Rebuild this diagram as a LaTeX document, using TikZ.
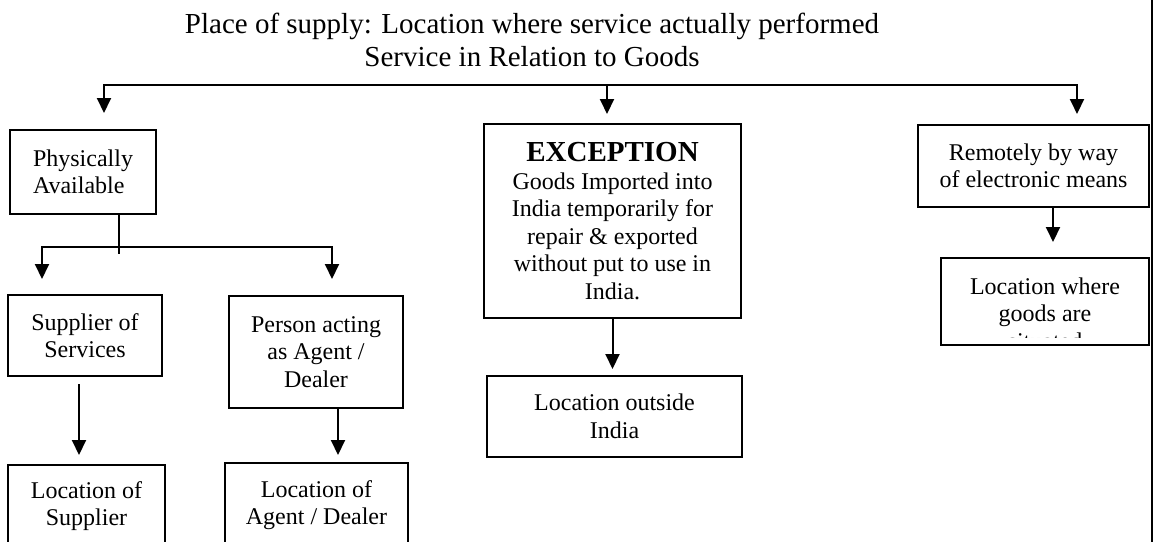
\documentclass[tikz,border=0pt]{standalone}
\usepackage{fontspec}
\setmainfont{Liberation Serif}
\usetikzlibrary{arrows.meta}
\usetikzlibrary{positioning}

\tikzset{
	box/.style = {draw, line width = 2pt, inner sep = 0pt, align = center, font = \fontsize{24}{27.5}\selectfont},
	link/.style = {line width = 2pt, line cap = rect},
}

\begin{document}
\begin{tikzpicture}[x = 1pt, y = -1pt, >={Triangle[width = 14pt, length = 15pt]}]
			%\draw[help lines] (0,0) grid (1155,541);
			\useasboundingbox (0,0) rectangle (1155,541);
			\clip (0,0) rectangle (1155,541);
			
			\node[font = \fontsize{29}{33}\selectfont, align = center, inner sep = 0pt] (title) at (532,40) {Place of supply: Location where service actually performed\\Service in Relation to Goods};
			
			\node[box, minimum width = 146pt, minimum height = 84pt, align = left] (phys) at (83,172) {Physically\\Available};
			\node[box, minimum width = 154pt, minimum height = 81pt] (supp) at (85,335.5) {Supplier of\\Services};
			\node[box, minimum width = 174pt, minimum height = 112pt] (agent) at (316,352) {Person acting\\as Agent /\\Dealer};
			\node[box, minimum width = 157pt, minimum height = 82pt] (locsupp) at (86.5,506) {Location of\\Supplier};
			\node[box, minimum width = 183pt, minimum height = 84pt] (locagent) at (316.5,505) {Location of\\Agent / Dealer};
			
			\node[box, minimum width = 257pt, minimum height = 194pt] (exc) at (612.5,221) {{\fontsize{29}{29}\selectfont\bfseries EXCEPTION}\\Goods Imported into\\India temporarily for\\repair \& exported\\without put to use in\\India.};
			\node[box, minimum width = 255pt, minimum height = 81pt] (outside) at (614.5,416.5) {Location outside\\India};
			
			\node[box, minimum width = 231pt, minimum height = 82pt] (remote) at (1033.5,166) {Remotely by way\\of electronic means};
			\node[box, minimum width = 208pt, minimum height = 87pt] (goods) at (1045,301.5) {};
			\begin{scope}
				\clip (goods.north west) rectangle (1149,337);
				\node[box, draw = none] (goodstext) at (1045,313.5) {Location where\\goods are\\situated};
			\end{scope}
			
			% top bus
			\coordinate (busL) at (104,85);
			\coordinate (busR) at (1077,85);
			\draw[link, ->, shorten >= 10pt] (busL) -- (busR) -- (busR |- remote.north);
			\draw[link, ->, shorten >= 16pt] (busL) -- (busL |- phys.north);
			\draw[link, ->, shorten >= 9pt] ([xshift = -5.5pt]exc.north |- busL) -- ([xshift = -5.5pt]exc.north);
			
			% fork under physically available
			\coordinate (stem) at (119,253);
			\coordinate (forkL) at (42,247);
			\coordinate (forkR) at (332,247);
			\draw[link] (stem |- phys.south) -- (stem);
			\draw[link, ->, shorten >= 15pt] (forkR) -- (forkL) -- (forkL |- supp.north);
			\draw[link, ->, shorten >= 16pt] (forkR) -- (forkR |- agent.north);
			
			\draw[link, ->, shorten <= 8pt, shorten >= 9pt] ([xshift = -6pt]supp.south) -- ([xshift = -6pt]supp.south |- locsupp.north);
			\draw[link, ->, shorten >= 7pt] ([xshift = 22pt]agent.south) -- ([xshift = 22pt]agent.south |- locagent.north);
			\draw[link, ->, shorten >= 6pt] (exc.south) -- (exc.south |- outside.north);
			\draw[link, ->, shorten >= 15pt] ([xshift = 19.5pt]remote.south) -- ([xshift = 19.5pt]remote.south |- goods.north);
			
			\draw[link] (1152,0) -- (1152,541);
			
		\end{tikzpicture}
\end{document}
